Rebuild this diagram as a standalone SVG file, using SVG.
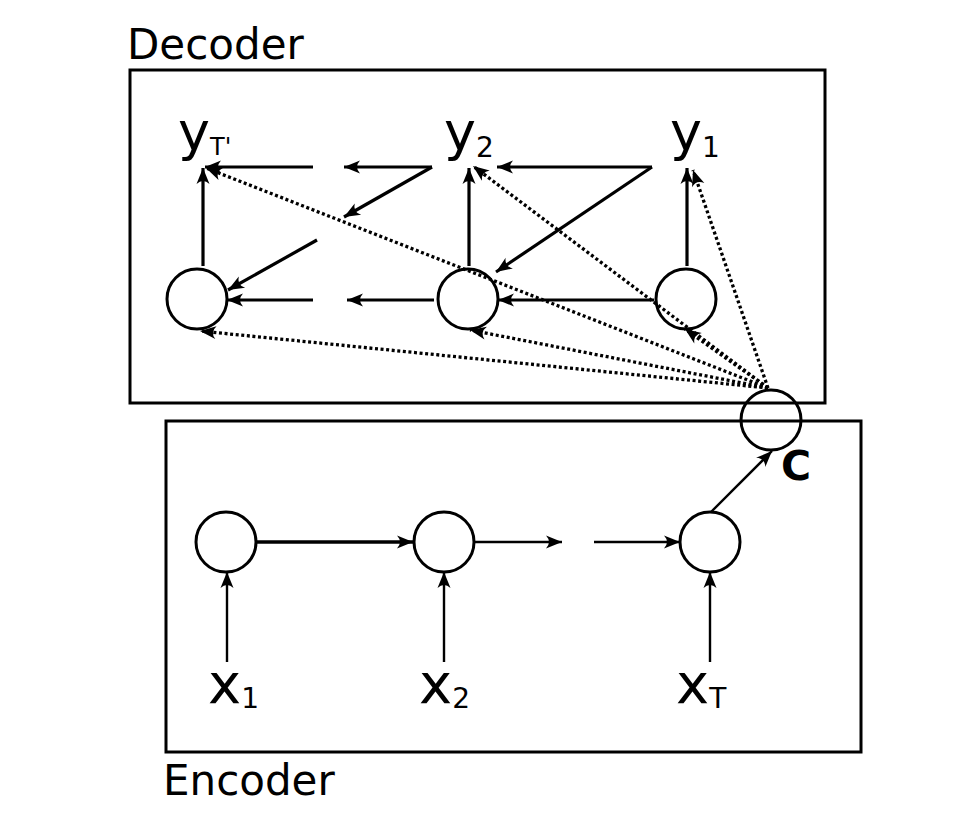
<svg xmlns="http://www.w3.org/2000/svg" width="960" height="818" viewBox="0 0 960 818">
<defs>
<style>
.box{fill:none;stroke:#000;stroke-width:3}
.node{fill:none;stroke:#000;stroke-width:3}
.ln{fill:none;stroke:#000;stroke-width:3.2;marker-end:url(#ah)}
.en{fill:none;stroke:#000;stroke-width:2.4;marker-end:url(#ah)}
.dt{fill:none;stroke:#000;stroke-width:3.3;stroke-dasharray:3 2.6;marker-end:url(#ah)}
.lbl{font-family:"DejaVu Sans",sans-serif;fill:#000}
</style>
<marker id="ah" viewBox="-18 -8 19 16" markerWidth="19" markerHeight="16" refX="0" refY="0" orient="auto" markerUnits="userSpaceOnUse">
<path d="M0,0 L-16,-6.5 Q-10,0 -16,6.5 Z" fill="#000"/>
</marker>
</defs>
<rect width="960" height="818" fill="#fff"/>
<g id="decoder-box">
<rect class="box" x="130" y="70" width="695" height="333"/>
<text class="lbl" x="127" y="59" font-size="42">Decoder</text>
</g>
<g id="encoder-box">
<rect class="box" x="166" y="421" width="695" height="331"/>
<text class="lbl" x="163" y="795" font-size="42">Encoder</text>
</g>
<g id="dec-h3"><circle class="node" cx="197" cy="299" r="30"/></g>
<g id="dec-h2"><circle class="node" cx="468" cy="299" r="30"/></g>
<g id="dec-h1"><circle class="node" cx="686" cy="299" r="30"/></g>
<g id="y-T"><text class="lbl" x="178" y="150" font-size="54">y<tspan font-size="24" dy="5">T'</tspan></text></g>
<g id="y-2"><text class="lbl" x="444" y="150" font-size="54">y<tspan font-size="28" dy="7">2</tspan></text></g>
<g id="y-1"><text class="lbl" x="670" y="150" font-size="54">y<tspan font-size="28" dy="7">1</tspan></text></g>
<g id="c-node"><circle class="node" cx="771" cy="420" r="30"/><text class="lbl" x="781" y="480" font-size="41" font-weight="bold">C</text></g>
<g id="enc-h1"><circle class="node" cx="226" cy="542" r="30"/></g>
<g id="enc-h2"><circle class="node" cx="444" cy="542" r="30"/></g>
<g id="enc-hT"><circle class="node" cx="710" cy="542" r="30"/></g>
<g id="x-1"><text class="lbl" x="208" y="703" font-size="56">x<tspan font-size="28" dy="5">1</tspan></text></g>
<g id="x-2"><text class="lbl" x="419" y="703" font-size="56">x<tspan font-size="28" dy="5">2</tspan></text></g>
<g id="x-T"><text class="lbl" x="676" y="703" font-size="56">x<tspan font-size="28" dy="5">T</tspan></text></g>
<g id="connectors">
<line class="ln" x1="203" y1="266" x2="203" y2="168"/>
<line class="ln" x1="469" y1="266" x2="469" y2="168"/>
<line class="ln" x1="687" y1="266" x2="687" y2="168"/>
<line class="ln" x1="652" y1="167" x2="497" y2="167"/>
<line class="ln" x1="652" y1="167" x2="496" y2="272"/>
<line class="ln" x1="432" y1="167" x2="344" y2="167"/>
<line class="ln" x1="432" y1="167" x2="344" y2="217"/>
<line class="ln" x1="313" y1="167" x2="205" y2="167"/>
<line class="ln" x1="317" y1="240" x2="228" y2="290"/>
<line class="ln" x1="313" y1="300" x2="227" y2="300"/>
<line class="ln" x1="434" y1="300" x2="347" y2="300"/>
<line class="ln" x1="654" y1="300" x2="498" y2="300"/>
<line class="dt" x1="768" y1="388" x2="206" y2="168"/>
<line class="dt" x1="768" y1="388" x2="473" y2="166"/>
<line class="dt" x1="768" y1="388" x2="693" y2="170"/>
<line class="dt" x1="768" y1="388" x2="200" y2="331"/>
<line class="dt" x1="768" y1="388" x2="470" y2="330"/>
<line class="dt" x1="768" y1="388" x2="685" y2="329"/>
<line class="en" x1="227" y1="662" x2="227" y2="572"/>
<line class="en" x1="444" y1="662" x2="444" y2="572"/>
<line class="en" x1="710" y1="662" x2="710" y2="572"/>
<line class="en" x1="256" y1="542" x2="413" y2="542" style="stroke-width:3.5"/>
<line class="en" x1="474" y1="542" x2="562" y2="542"/>
<line class="en" x1="594" y1="542" x2="680" y2="542"/>
<line class="en" x1="711" y1="512" x2="772" y2="451"/>
</g>
</svg>
